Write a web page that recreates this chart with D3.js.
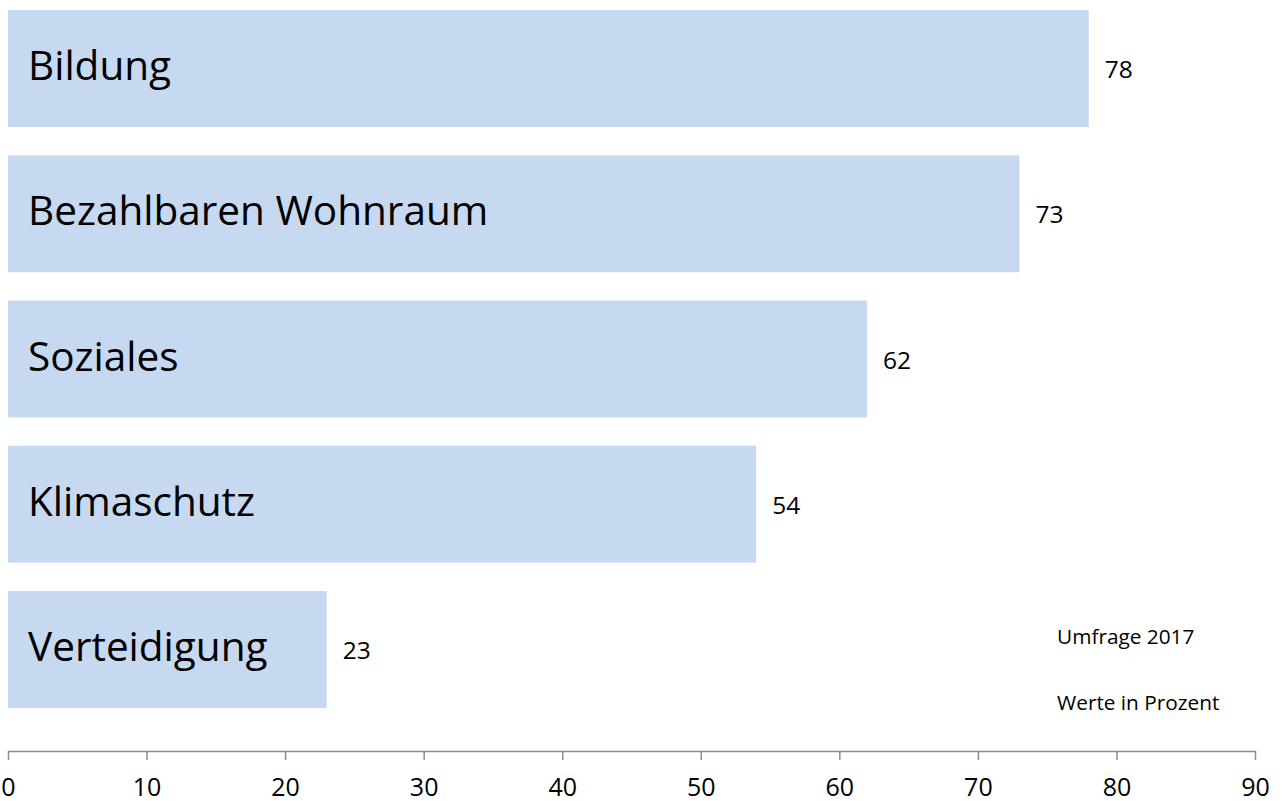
<!DOCTYPE html>
<html>
<head>
<meta charset="utf-8">
<script src="https://cdn.jsdelivr.net/npm/d3@7"></script>
<style>
  body { margin: 0; background: #fff; }
  svg text { font-family: "Open Sans", "Noto Sans", sans-serif; fill: #000; }
</style>
</head>
<body>
<div id="chart"></div>
<script>
// Data
const categories = ["Bildung", "Bezahlbaren Wohnraum", "Soziales", "Klimaschutz", "Verteidigung"];
const values = [78, 73, 62, 54, 23];
const xTicks = [0, 10, 20, 30, 40, 50, 60, 70, 80, 90];
const notes = ["Umfrage 2017", "Werte in Prozent"];

const width = 1286;
const height = 801;

const data = categories.map((c, i) => ({ name: c, value: values[i] }));

// Scales
const xScale = d3.scaleLinear()
    .domain([0, 90])
    .range([8, 1255]);

const yScale = d3.scaleBand()
    .domain(categories)
    .range([10, 708])
    .paddingInner(0.195)
    .paddingOuter(0);

const svg = d3.select("#chart")
    .append("svg")
    .attr("width", width)
    .attr("height", height);

// Bars
svg.selectAll(".bar")
    .data(data)
    .enter().append("rect")
    .attr("class", "bar")
    .attr("x", xScale(0))
    .attr("y", d => yScale(d.name))
    .attr("width", d => xScale(d.value) - xScale(0))
    .attr("height", yScale.bandwidth())
    .attr("fill", "#c6d9f1");

// Category labels inside bars
svg.selectAll(".cat-label")
    .data(data)
    .enter().append("text")
    .attr("class", "cat-label")
    .attr("x", xScale(0) + 20)
    .attr("y", d => yScale(d.name) + yScale.bandwidth() / 2 + 11.5)
    .style("font-size", "40.5px")
    .text(d => d.name);

// Value labels
svg.selectAll(".val-label")
    .data(data)
    .enter().append("text")
    .attr("class", "val-label")
    .attr("x", d => xScale(d.value) + 16)
    .attr("y", d => yScale(d.name) + yScale.bandwidth() / 2 + 9.5)
    .style("font-size", "24.5px")
    .text(d => d.value);

// X axis
const xAxis = d3.axisBottom(xScale)
    .tickValues(xTicks)
    .tickSize(9)
    .tickSizeOuter(0)
    .tickPadding(18);

const gx = svg.append("g")
    .attr("class", "x-axis")
    .attr("transform", "translate(0,751)")
    .call(xAxis);

gx.select(".domain").attr("stroke", "#8c8c8c").attr("stroke-width", 1.5);
gx.selectAll(".tick line").attr("stroke", "#8c8c8c").attr("stroke-width", 1.5);
gx.selectAll(".tick text")
    .style("font-size", "25px")
    .attr("fill", "#000");

// Notes
svg.selectAll(".note")
    .data(notes)
    .enter().append("text")
    .attr("class", "note")
    .attr("x", 1057)
    .attr("y", (d, i) => 644 + i * 66)
    .style("font-size", "20.8px")
    .text(d => d);
</script>
</body>
</html>
